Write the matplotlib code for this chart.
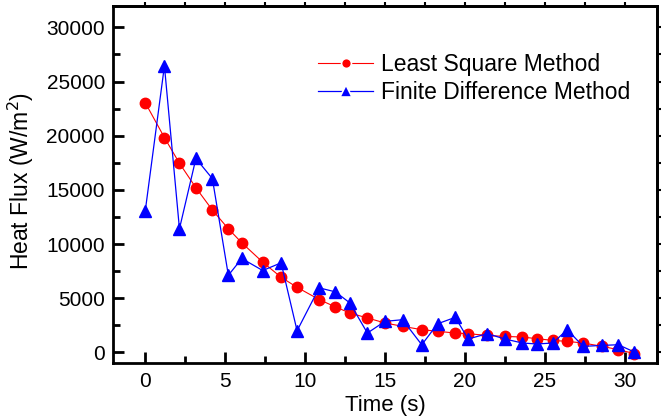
import matplotlib.pyplot as plt
from matplotlib.ticker import MultipleLocator

plt.rcParams['font.family'] = ['Liberation Sans', 'DejaVu Sans']

# tiempos (s)
tiempo = [0, 1.2, 2.14, 3.17, 4.2, 5.2, 6.04, 7.35, 8.5, 9.5,
          10.88, 11.9, 12.8, 13.9, 15.0, 16.1, 17.3, 18.3, 19.4, 20.2,
          21.4, 22.5, 23.6, 24.5, 25.5, 26.4, 27.4, 28.6, 29.6, 30.6]

# flujo de calor (W/m2)
minimos_cuadrados = [23050, 19830, 17460, 15200, 13140, 11410, 10120, 8330, 6940, 6010,
                     4880, 4200, 3640, 3180, 2720, 2410, 2100, 1950, 1790, 1730,
                     1570, 1480, 1420, 1270, 1110, 1020, 870, 560, 250, -100]

diferencias_finitas = [13050, 26450, 11410, 17900, 16040, 7120, 8670, 7560, 8270, 2000,
                       5960, 5590, 4570, 1790, 2870, 3020, 710, 2650, 3240, 1240,
                       1730, 1240, 870, 780, 870, 2100, 560, 650, 710, 40]

fig = plt.figure(figsize=(6.64, 4.19), dpi=100)
ax = fig.add_axes([0.1706, 0.133, 0.8184, 0.8534])

ax.plot(tiempo, minimos_cuadrados, color="red", lw=0.8, marker="o", ms=7.5,
        mec="red", mfc="red", label="Least Square Method", zorder=3)
ax.plot(tiempo, diferencias_finitas, color="blue", lw=0.9, marker="^", ms=8.5,
        mec="blue", mfc="blue", label="Finite Difference Method", zorder=4)

ax.set_xlim(-2, 32)
ax.set_ylim(-1000, 32000)
ax.xaxis.set_major_locator(MultipleLocator(5))
ax.xaxis.set_minor_locator(MultipleLocator(2.5))
ax.yaxis.set_major_locator(MultipleLocator(5000))
ax.yaxis.set_minor_locator(MultipleLocator(2500))

for s in ax.spines.values():
    s.set_linewidth(2)

ax.tick_params(which="major", direction="in", length=8, width=2, labelsize=15, pad=6)
ax.tick_params(which="minor", direction="in", length=5, width=2)
# ticks cortos hacia fuera en los ejes de arriba y derecha
sec_x = ax.secondary_xaxis("top")
sec_x.xaxis.set_major_locator(MultipleLocator(5))
sec_x.xaxis.set_minor_locator(MultipleLocator(2.5))
sec_x.tick_params(which="both", direction="out", length=3, width=1.5, labeltop=False)
sec_x.spines["top"].set_linewidth(2)
sec_y = ax.secondary_yaxis("right")
sec_y.yaxis.set_major_locator(MultipleLocator(5000))
sec_y.yaxis.set_minor_locator(MultipleLocator(2500))
sec_y.tick_params(which="both", direction="out", length=3, width=1.5, labelright=False)
sec_y.spines["right"].set_linewidth(2)

ax.set_xlabel("Time (s)", fontsize=16, labelpad=3)
ax.set_ylabel("Heat Flux (W/m$^2$)", fontsize=16.5)
ax.yaxis.set_label_coords(-0.142, 0.51)

leg = ax.legend(loc="upper right", bbox_to_anchor=(0.99, 0.925), frameon=False, fontsize=16.5,
                handlelength=2.4, markerscale=0.95, handletextpad=0.35, labelspacing=0.2)
# pequeño hueco en la línea alrededor del marcador de la leyenda
for h in leg.legend_handles:
    h.set_markeredgecolor("white")
    h.set_markeredgewidth(1.2)

plt.savefig("out.png", dpi=100)
